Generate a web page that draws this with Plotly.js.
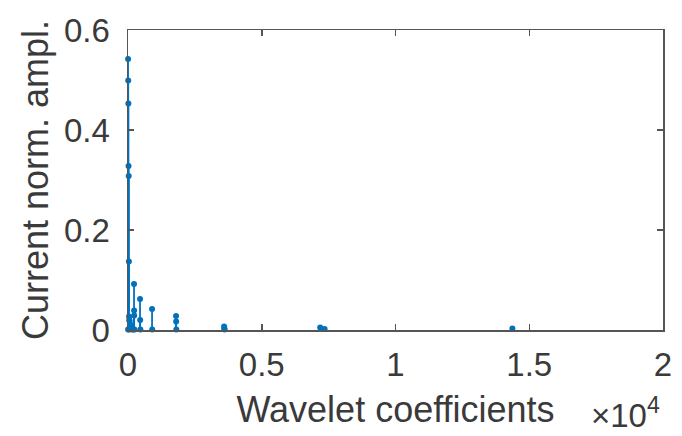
<!DOCTYPE html>
<html>
<head>
<meta charset="utf-8">
<script src="https://cdn.plot.ly/plotly-3.0.1.min.js"></script>
<style>html,body{margin:0;padding:0;background:#fff;}#chart{width:682px;height:436px;}</style>
</head>
<body>
<div id="chart"></div>
<script>
// Coefficient index (x) and normalised amplitude (y) of each stem
const coefIndex = [2, 8, 14, 20, 26, 32, 40, 48, 60, 75, 90, 105, 118,
                   5, 30, 70, 130, 200,
                   225, 228, 231, 240, 450, 455, 462, 899, 905,
                   1797, 1800, 1806, 3593, 3600, 3610,
                   7185, 7350, 14369];
const amplitude = [0.542, 0.499, 0.453, 0.328, 0.308, 0.137, 0.027, 0.020, 0.018, 0.012, 0.006, 0.004, 0.008,
                   0.001, 0.001, 0.002, 0.001, 0.001,
                   0.092, 0.039, 0.029, 0.001, 0.062, 0.020, 0.001, 0.042, 0.001,
                   0.028, 0.017, 0.001, 0.007, 0.003, 0.001,
                   0.005, 0.002, 0.003];
const xTickVals = [0, 5000, 10000, 15000, 20000];
const xTickText = ['0', '0.5', '1', '1.5', '2'];
const yTickVals = [0, 0.2, 0.4, 0.6];
const yTickText = ['0', '0.2', '0.4', '0.6'];

const stemColor = '#0072BD';
const axisColor = '#555555';
const textColor = '#3a3a3a';
const fontFam = 'Liberation Sans, Arial, Helvetica, sans-serif';

// build stem segments
const sx = [], sy = [];
coefIndex.forEach((x, i) => { sx.push(x, x, null); sy.push(0, amplitude[i], null); });

const traces = [
  {x: sx, y: sy, type: 'scatter', mode: 'lines', line: {color: stemColor, width: 1.8},
   hoverinfo: 'skip', showlegend: false, cliponaxis: false},
  {x: coefIndex, y: amplitude, type: 'scatter', mode: 'markers',
   marker: {color: stemColor, size: 6, symbol: 'circle'}, showlegend: false, cliponaxis: false}
];

const layout = {
  width: 682, height: 436,
  margin: {l: 128, r: 19, t: 30, b: 106},
  paper_bgcolor: '#ffffff', plot_bgcolor: '#ffffff',
  font: {family: fontFam, size: 33, color: textColor},
  showlegend: false,
  xaxis: {
    range: [0, 20000], tickvals: xTickVals, ticktext: xTickText,
    ticks: 'inside', ticklen: 6, tickwidth: 1.5, tickcolor: axisColor,
    showline: true, linecolor: axisColor, linewidth: 1.5, mirror: 'ticks',
    showgrid: false, zeroline: false, ticklabelstandoff: 5,
    tickfont: {size: 33, color: textColor},
    title: {text: 'Wavelet coefficients', font: {size: 36, color: textColor}, standoff: 14}
  },
  yaxis: {
    range: [0, 0.6], tickvals: yTickVals, ticktext: yTickText,
    ticks: 'inside', ticklen: 6, tickwidth: 1.5, tickcolor: axisColor,
    showline: true, linecolor: axisColor, linewidth: 1.5, mirror: 'ticks',
    showgrid: false, zeroline: false, ticklabelstandoff: 10,
    tickfont: {size: 33, color: textColor},
    title: {text: 'Current norm. ampl.', font: {size: 36, color: textColor}, standoff: 4}
  },
  annotations: [{
    text: '×10<sup>4</sup>', xref: 'paper', yref: 'paper', x: 0.998, y: -0.275,
    xanchor: 'right', yanchor: 'middle', showarrow: false,
    font: {size: 33, color: textColor}
  }]
};

Plotly.newPlot('chart', traces, layout, {displayModeBar: false, staticPlot: true});
</script>
</body>
</html>
